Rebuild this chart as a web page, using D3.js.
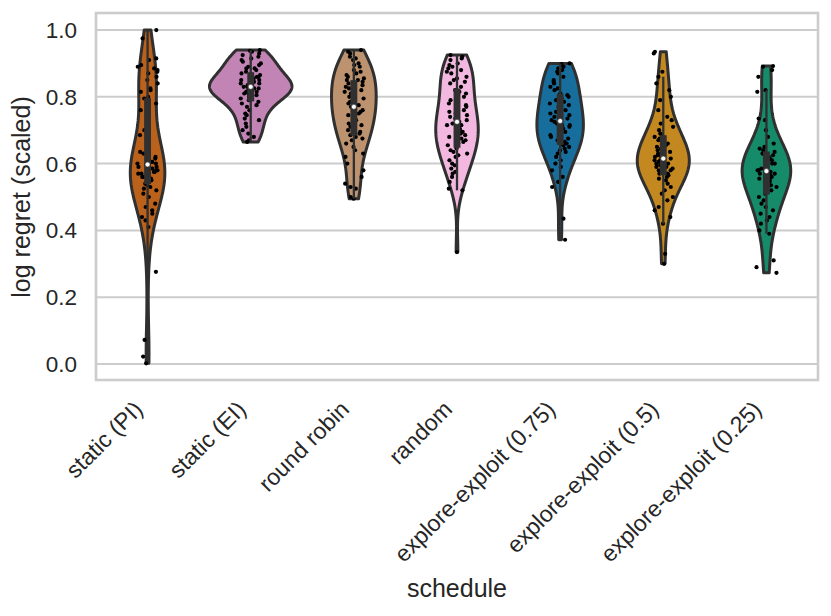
<!DOCTYPE html>
<html>
<head>
<meta charset="utf-8">
<script src="https://cdn.jsdelivr.net/npm/d3@7"></script>
<style>
  body { margin: 0; background: #fff; }
  text { font-family: "Liberation Sans", Arial, sans-serif; fill: #262626; }
</style>
</head>
<body>
<svg id="chart" width="831" height="616"></svg>
<script>
var schedules = ["static (PI)", "static (EI)", "round robin", "random",
    "explore-exploit (0.75)", "explore-exploit (0.5)", "explore-exploit (0.25)"];

var staticPI = [1.0, 0.975, 0.915, 0.91, 0.895, 0.89, 0.885, 0.88, 0.875, 0.87, 0.86, 0.85, 0.84, 0.825,
    0.82, 0.815, 0.80, 0.795, 0.78, 0.76, 0.73, 0.70, 0.685, 0.66, 0.635, 0.63, 0.625, 0.62, 0.615, 0.61,
    0.605, 0.605, 0.60, 0.60, 0.595, 0.59, 0.59, 0.585, 0.58, 0.58, 0.575, 0.575, 0.57, 0.57, 0.565, 0.56,
    0.56, 0.555, 0.55, 0.545, 0.54, 0.535, 0.53, 0.525, 0.52, 0.51, 0.50, 0.48, 0.47, 0.46, 0.45, 0.44,
    0.43, 0.41, 0.276, 0.072, 0.022, 0.002];
var staticEI = [0.94, 0.938, 0.935, 0.93, 0.925, 0.92, 0.915, 0.91, 0.905, 0.90, 0.895, 0.89, 0.885, 0.885,
    0.88, 0.875, 0.87, 0.865, 0.86, 0.86, 0.855, 0.85, 0.85, 0.845, 0.84, 0.84, 0.84, 0.835, 0.835, 0.83,
    0.83, 0.83, 0.825, 0.825, 0.82, 0.82, 0.82, 0.815, 0.815, 0.81, 0.81, 0.805, 0.80, 0.80, 0.795, 0.79,
    0.785, 0.78, 0.775, 0.77, 0.76, 0.75, 0.745, 0.735, 0.73, 0.72, 0.71, 0.70, 0.69, 0.68, 0.67, 0.665];
var roundRobin = [0.94, 0.935, 0.93, 0.92, 0.915, 0.91, 0.90, 0.895, 0.89, 0.88, 0.875, 0.87, 0.865, 0.86,
    0.855, 0.85, 0.85, 0.845, 0.84, 0.835, 0.83, 0.825, 0.82, 0.815, 0.81, 0.80, 0.795, 0.79, 0.785, 0.78,
    0.775, 0.77, 0.77, 0.765, 0.76, 0.755, 0.75, 0.745, 0.74, 0.735, 0.73, 0.72, 0.715, 0.71, 0.70, 0.695,
    0.69, 0.685, 0.68, 0.675, 0.67, 0.66, 0.65, 0.64, 0.63, 0.62, 0.60, 0.58, 0.56, 0.54, 0.53, 0.525,
    0.50, 0.495];
var randomSched = [0.925, 0.92, 0.915, 0.91, 0.90, 0.895, 0.89, 0.885, 0.88, 0.875, 0.87, 0.86, 0.855, 0.85,
    0.845, 0.84, 0.83, 0.82, 0.815, 0.81, 0.80, 0.795, 0.79, 0.78, 0.775, 0.77, 0.76, 0.755, 0.75, 0.745,
    0.74, 0.735, 0.73, 0.725, 0.72, 0.715, 0.715, 0.71, 0.705, 0.70, 0.695, 0.69, 0.685, 0.68, 0.675, 0.67,
    0.665, 0.66, 0.655, 0.65, 0.645, 0.64, 0.635, 0.63, 0.625, 0.62, 0.61, 0.60, 0.595, 0.585, 0.575, 0.57,
    0.56, 0.545, 0.525, 0.52, 0.335];
var ee075 = [0.90, 0.898, 0.895, 0.89, 0.885, 0.88, 0.875, 0.87, 0.86, 0.85, 0.845, 0.84, 0.83, 0.825, 0.82,
    0.81, 0.805, 0.80, 0.795, 0.79, 0.785, 0.78, 0.775, 0.77, 0.76, 0.755, 0.75, 0.745, 0.74, 0.735, 0.73,
    0.725, 0.72, 0.715, 0.715, 0.71, 0.705, 0.70, 0.695, 0.69, 0.685, 0.68, 0.675, 0.67, 0.665, 0.66, 0.655,
    0.65, 0.645, 0.64, 0.635, 0.63, 0.62, 0.61, 0.60, 0.59, 0.58, 0.56, 0.545, 0.53, 0.435, 0.372];
var ee050 = [0.935, 0.93, 0.875, 0.86, 0.84, 0.82, 0.80, 0.79, 0.76, 0.74, 0.73, 0.72, 0.71, 0.70, 0.69,
    0.685, 0.68, 0.675, 0.67, 0.665, 0.66, 0.655, 0.65, 0.645, 0.64, 0.635, 0.63, 0.625, 0.62, 0.62, 0.615,
    0.61, 0.61, 0.605, 0.60, 0.60, 0.595, 0.59, 0.59, 0.585, 0.58, 0.58, 0.575, 0.57, 0.57, 0.565, 0.56,
    0.555, 0.55, 0.54, 0.53, 0.52, 0.51, 0.50, 0.49, 0.47, 0.46, 0.44, 0.42, 0.33, 0.30];
var ee025 = [0.892, 0.89, 0.88, 0.86, 0.82, 0.815, 0.735, 0.73, 0.70, 0.68, 0.66, 0.65, 0.645, 0.64, 0.635,
    0.63, 0.625, 0.62, 0.615, 0.61, 0.605, 0.60, 0.60, 0.595, 0.59, 0.585, 0.58, 0.58, 0.575, 0.57, 0.57,
    0.565, 0.56, 0.56, 0.555, 0.55, 0.545, 0.54, 0.535, 0.53, 0.52, 0.51, 0.50, 0.49, 0.48, 0.47, 0.46,
    0.45, 0.44, 0.43, 0.42, 0.40, 0.39, 0.31, 0.29, 0.273];

var groups = [staticPI, staticEI, roundRobin, randomSched, ee075, ee050, ee025];
var colors = ["#d55e00", "#cc78bc", "#ca9161", "#fbafe4", "#0173b2", "#de8f05", "#029e73"];
var yTicks = [0, 0.2, 0.4, 0.6, 0.8, 1.0];

var gray = "#303030", lw = 2.3;

var svg = d3.select("#chart");
svg.append("rect").attr("width", 831).attr("height", 616).attr("fill", "#fff");

var x = d3.scaleBand().domain(schedules).range([96, 818]).padding(0);
var y = d3.scaleLinear().domain([-0.048, 1.051]).range([380, 13]);

// grid
svg.append("g").selectAll("line").data(yTicks).enter().append("line")
    .attr("x1", 96).attr("x2", 818)
    .attr("y1", function(d) { return y(d); }).attr("y2", function(d) { return y(d); })
    .attr("stroke", "#cccccc").attr("stroke-width", 2);

// kde, scott bandwidth, cut at data range
function kde(vals) {
    var n = vals.length, bw = d3.deviation(vals) * Math.pow(n, -0.2);
    var lo = d3.min(vals), hi = d3.max(vals);
    return d3.range(100).map(function(i) {
        var t = lo + (hi - lo) * i / 99, s = 0;
        vals.forEach(function(v) { var z = (t - v) / bw; s += Math.exp(-0.5 * z * z); });
        return [t, s / (n * bw * Math.sqrt(2 * Math.PI))];
    });
}
var dens = groups.map(kde);
var maxD = d3.max(dens, function(d) { return d3.max(d, function(p) { return p[1]; }); });
var halfW = 0.4 * x.bandwidth();

function desat(c) { var h = d3.hsl(c); h.s *= 0.75; return h.formatHex(); }

var plot = svg.append("g");
dens.forEach(function(d, g) {
    var cx = x(schedules[g]) + x.bandwidth() / 2;
    var area = d3.area()
        .x0(function(p) { return cx - p[1] / maxD * halfW; })
        .x1(function(p) { return cx + p[1] / maxD * halfW; })
        .y(function(p) { return y(p[0]); });
    plot.append("path").datum(d).attr("d", area)
        .attr("fill", desat(colors[g])).attr("stroke", gray).attr("stroke-width", 3)
        .attr("stroke-linejoin", "round");
});

// strip points
function jit(g, i) {
    var s = Math.sin((g + 1) * 97.13 + i * 12.9898) * 43758.5453;
    return (s - Math.floor(s)) * 2 - 1;
}
groups.forEach(function(vals, g) {
    var cx = x(schedules[g]) + x.bandwidth() / 2;
    plot.append("g").selectAll("circle").data(vals).enter().append("circle")
        .attr("cx", function(v, i) { return cx + jit(g, i) * 0.1 * x.bandwidth(); })
        .attr("cy", function(v) { return y(v); })
        .attr("r", 2.1).attr("fill", "#000");
});

// inner box
groups.forEach(function(vals, g) {
    var cx = x(schedules[g]) + x.bandwidth() / 2;
    var s = vals.slice().sort(d3.ascending);
    var q1 = d3.quantile(s, 0.25), q2 = d3.quantile(s, 0.5), q3 = d3.quantile(s, 0.75);
    var lim = 1.5 * (q3 - q1);
    var h1 = d3.min(s.filter(function(v) { return v >= q1 - lim; }));
    var h2 = d3.max(s.filter(function(v) { return v <= q3 + lim; }));
    plot.append("line").attr("x1", cx).attr("x2", cx).attr("y1", y(h1)).attr("y2", y(h2))
        .attr("stroke", gray).attr("stroke-width", lw);
    plot.append("line").attr("x1", cx).attr("x2", cx).attr("y1", y(q1)).attr("y2", y(q3))
        .attr("stroke", gray).attr("stroke-width", lw * 3);
    plot.append("circle").attr("cx", cx).attr("cy", y(q2)).attr("r", 2.5)
        .attr("fill", "#fff").attr("stroke", gray).attr("stroke-width", 0.6);
});

// frame
svg.append("rect").attr("x", 96).attr("y", 13).attr("width", 722).attr("height", 367)
    .attr("fill", "none").attr("stroke", "#cccccc").attr("stroke-width", 2.6);

// y ticks
svg.append("g").selectAll("text").data(yTicks).enter().append("text")
    .attr("x", 77).attr("y", function(d) { return y(d); }).attr("dy", "0.36em")
    .attr("text-anchor", "end").style("font-size", "22.5px")
    .text(function(d) { return d3.format(".1f")(d); });

// x ticks, rotated
var fs = 23, asc = 0.72 * fs, desc = 0.21 * fs;
svg.append("g").selectAll("text").data(schedules).enter().append("text")
    .attr("transform", function(d) {
        var px = x(d) + x.bandwidth() / 2 - 0.707 * desc, py = 399 + 0.707 * asc;
        return "translate(" + px + "," + py + ") rotate(-45)";
    })
    .attr("text-anchor", "end").style("font-size", fs + "px")
    .text(function(d) { return d; });

// axis labels
svg.append("text").attr("x", 457).attr("y", 597).attr("text-anchor", "middle")
    .style("font-size", "25px").text("schedule");
svg.append("text").attr("transform", "translate(30," + y(0.5) + ") rotate(-90)")
    .attr("text-anchor", "middle").style("font-size", "25px").text("log regret (scaled)");
</script>
</body>
</html>
